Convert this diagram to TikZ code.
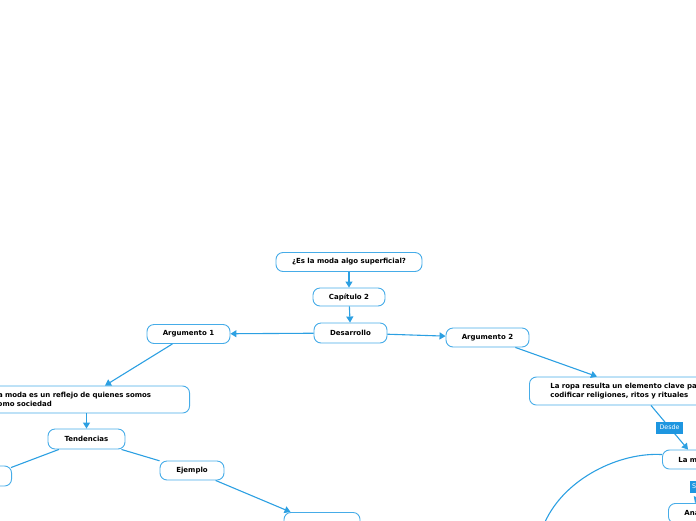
\documentclass[tikz,border=0pt]{standalone}
\usepackage{fontspec}
\setmainfont{DejaVu Sans}
\usepackage{tikz}
\usetikzlibrary{positioning, calc, arrows.meta}
\definecolor{mmline}{RGB}{44,160,226}
\definecolor{mmborder}{RGB}{70,172,232}
\definecolor{mmtag}{RGB}{30,150,224}

\begin{document}
\begin{tikzpicture}[x=1pt, y=-1pt,
    topic/.style={rectangle, draw=mmborder, line width=0.9pt, rounded corners=7pt, fill=white, minimum height=19pt, inner xsep=0pt, font=\bfseries\fontsize{7}{8.6}\selectfont},
    longtopic/.style={topic, align=left, inner xsep=21pt, inner ysep=4pt},
    tag/.style={rectangle, fill=mmtag, text=white, inner xsep=4pt, inner ysep=0pt, minimum height=12pt, font=\fontsize{6.3}{7}\selectfont},
    link/.style={draw=mmline, line width=1.1pt},
    arr/.style={link, -{Triangle[width=7pt, length=6pt]}}
]
    \useasboundingbox (0,0) rectangle (696,520);

    % Main thread
    \node[topic, minimum width=146pt] (question) at (349,262) {¿Es la moda algo superficial?};
    \node[topic, minimum width=72pt, minimum height=18pt] (chapter) at (349,297) {Capítulo 2};
    \node[topic, minimum width=73pt, minimum height=20pt] (dev) at (350.5,333) {Desarrollo};
    \node[topic, minimum width=83pt] (arg1) at (188.5,334) {Argumento 1};
    \node[topic, minimum width=83pt] (arg2) at (487.5,337.5) {Argumento 2};

    % Left branch
    \node[longtopic, text width=175pt, minimum height=27pt, anchor=east] (mirror) at (190,399.5) {La moda es un reflejo de quienes somos\\como sociedad};
    \node[topic, minimum width=77pt, minimum height=20pt] (trends) at (86.5,439) {Tendencias};
    \node[topic, minimum width=60pt, minimum height=20pt, anchor=east] (trendleft) at (12,476) {};
    \node[topic, minimum width=64pt] (example) at (192,470.5) {Ejemplo};
    \node[topic, minimum width=76pt, minimum height=20pt, anchor=north] (exnext) at (322,512) {};

    % Right branch
    \node[longtopic, text width=180pt, minimum height=28pt, anchor=west] (clothes) at (529,391) {La ropa resulta un elemento clave para\\codificar religiones, ritos y rituales};
    \node[topic, anchor=west, text width=60pt, align=left, inner xsep=16pt] (lam) at (662,459.5) {La m};
    \node[topic, anchor=north west, text width=60pt, align=left, inner xsep=16pt, minimum height=20pt] (ana) at (668,503) {Ana};
    \coordinate (arcend) at (545,522);

    % Connections
    \draw[arr] (question) -- (chapter);
    \draw[arr] (chapter) -- (dev);
    \draw[arr] (dev) -- (arg1);
    \draw[arr] (dev) -- (arg2);
    \draw[arr] (arg1) -- ($(mirror.north east)+(-85,0)$);
    \draw[arr] (arg2) -- ($(clothes.north west)+(68,0)$);
    \draw[arr] (mirror.south -| trends.north) -- (trends.north);
    \draw[link] (trends) -- ($(trendleft.north east)+(-1,2)$);
    \draw[link] (trends) -- (example);
    \draw[arr] (example) -- ($(exnext.north west)+(7,0)$);
    \draw[arr] ($(clothes.south west)+(122,0)$) -- node[tag] (since) {Desde} ($(lam.north west)+(26,0)$);
    \draw[arr] ($(lam.south west)+(46,0)$) -- ($(ana.north west)+(27,0)$);
    \node[tag, anchor=west, text width=20pt, align=left, inner xsep=2pt] (stag) at (690,486.5) {S};
    \draw[link] ($(lam.north west)+(0,5)$) .. controls (620,452) and (565,478) .. (arcend);
\end{tikzpicture}
\end{document}
